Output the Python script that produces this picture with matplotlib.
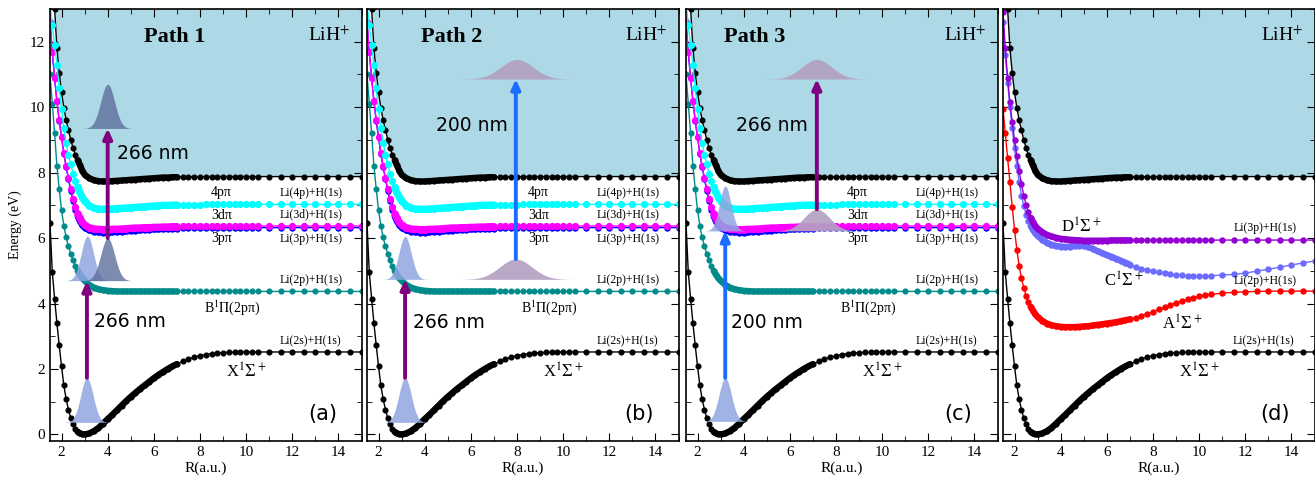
import numpy as np
import matplotlib
matplotlib.use("Agg")
import matplotlib.pyplot as plt
from matplotlib.ticker import MultipleLocator

plt.rcParams.update({
    "font.family": "serif", "font.serif": ["Liberation Serif", "DejaVu Serif"],
    "mathtext.fontset": "stix", "font.size": 10.5,
    "xtick.direction": "in", "ytick.direction": "in",
    "xtick.top": True, "ytick.right": True,
    "xtick.major.size": 6, "ytick.major.size": 6,
    "xtick.minor.size": 3.5, "ytick.minor.size": 3.5,
    "axes.linewidth": 1.2,
})

# ---------------------------------------------------------------- data (eV)
R = np.array([1.5, 1.6, 1.7, 1.8, 1.9, 2.0, 2.1, 2.2, 2.3, 2.4, 2.5, 2.6, 2.7, 2.8, 2.9, 3.0,
              3.2, 3.4, 3.6, 3.8, 4.0, 4.2, 4.4, 4.6, 4.8, 5.0, 5.2, 5.4, 5.6, 5.8, 6.0,
              6.2, 6.4, 6.6, 6.8, 7.0,
              7.25, 7.5, 7.75, 8.0, 8.25, 8.5, 8.75, 9.0, 9.25, 9.5, 9.75, 10.0, 10.25, 10.5,
              11.0, 11.5, 12.0, 12.5, 13.0, 13.5, 14.0, 14.5, 15.0])

ION = np.array([15.5, 14.2, 13.0, 11.8, 11.05, 10.45, 9.98, 9.6, 9.3, 9.0, 8.75, 8.55, 8.38, 8.22, 8.06, 7.94,
                7.83, 7.77, 7.74, 7.73, 7.73, 7.74, 7.75, 7.76, 7.77, 7.78, 7.79, 7.80, 7.81, 7.82, 7.83,
                7.84, 7.85, 7.85, 7.86, 7.86,
                7.87, 7.87, 7.87, 7.87, 7.88, 7.88, 7.88, 7.88, 7.88, 7.88, 7.88, 7.88, 7.88, 7.88,
                7.88, 7.88, 7.88, 7.88, 7.88, 7.88, 7.88, 7.88, 7.88])
PI_4P = np.array([13.2, 12.5, 11.9, 11.3, 10.6, 9.95, 9.35, 8.9, 8.55, 8.25, 7.97, 7.75, 7.55, 7.38, 7.25, 7.13,
                  6.99, 6.92, 6.89, 6.88, 6.88, 6.89, 6.90, 6.91, 6.92, 6.93, 6.94, 6.95, 6.96, 6.97, 6.98,
                  6.99, 7.00, 7.00, 7.01, 7.01,
                  7.02, 7.02, 7.02, 7.02, 7.03, 7.03, 7.03, 7.03, 7.03, 7.03, 7.03, 7.03, 7.03, 7.03,
                  7.03, 7.03, 7.03, 7.03, 7.03, 7.03, 7.03, 7.03, 7.03])
PI_3D = np.array([12.6, 11.7, 10.9, 10.2, 9.6, 9.1, 8.6, 8.2, 7.85, 7.5, 7.2, 6.95, 6.75, 6.6, 6.48, 6.4,
                  6.32, 6.28, 6.27, 6.26, 6.26, 6.27, 6.27, 6.28, 6.29, 6.30, 6.31, 6.31, 6.32, 6.32, 6.33,
                  6.33, 6.34, 6.34, 6.35, 6.35,
                  6.36, 6.36, 6.36, 6.37, 6.37, 6.37, 6.37, 6.37, 6.37, 6.37, 6.37, 6.37, 6.37, 6.37,
                  6.37, 6.37, 6.37, 6.37, 6.37, 6.37, 6.37, 6.37, 6.37])
PI_3P = np.array([12.58, 11.68, 10.88, 10.18, 9.58, 9.08, 8.58, 8.17, 7.8, 7.44, 7.13, 6.87, 6.67, 6.51, 6.4, 6.32,
                  6.24, 6.20, 6.18, 6.17, 6.17, 6.18, 6.19, 6.20, 6.21, 6.22, 6.23, 6.24, 6.25, 6.26, 6.27,
                  6.27, 6.28, 6.28, 6.29, 6.29,
                  6.30, 6.30, 6.31, 6.31, 6.31, 6.32, 6.32, 6.32, 6.32, 6.32, 6.32, 6.32, 6.32, 6.32,
                  6.32, 6.32, 6.32, 6.32, 6.32, 6.32, 6.32, 6.32, 6.32])
B_PI = np.array([11.0, 10.1, 9.2, 8.2, 7.5, 6.85, 6.38, 6.02, 5.75, 5.52, 5.32, 5.15, 5.0, 4.88, 4.78, 4.7,
                 4.57, 4.49, 4.44, 4.41, 4.39, 4.38, 4.37, 4.37, 4.37, 4.37, 4.37, 4.37, 4.37, 4.37, 4.37,
                 4.37, 4.37, 4.37, 4.37, 4.37,
                 4.37, 4.37, 4.37, 4.37, 4.37, 4.37, 4.37, 4.37, 4.37, 4.37, 4.37, 4.37, 4.37, 4.37,
                 4.37, 4.37, 4.37, 4.37, 4.37, 4.37, 4.37, 4.37, 4.37])
X_SIG = np.array([6.45, 4.95, 4.15, 3.4, 2.72, 2.08, 1.5, 1.08, 0.76, 0.5, 0.31, 0.17, 0.08, 0.03, 0.01, 0.0,
                  0.03, 0.10, 0.20, 0.33, 0.47, 0.60, 0.74, 0.88, 1.02, 1.15, 1.27, 1.39, 1.50, 1.61, 1.72,
                  1.82, 1.91, 2.00, 2.08, 2.15,
                  2.23, 2.30, 2.36, 2.41, 2.44, 2.47, 2.49, 2.50, 2.51, 2.51, 2.52, 2.52, 2.52, 2.52,
                  2.52, 2.52, 2.52, 2.52, 2.52, 2.52, 2.52, 2.52, 2.52])
A_SIG = np.array([9.95, 9.2, 8.45, 7.7, 6.95, 6.25, 5.65, 5.15, 4.77, 4.48, 4.24, 4.05, 3.9, 3.78, 3.67, 3.59,
                  3.47, 3.39, 3.34, 3.31, 3.29, 3.28, 3.28, 3.28, 3.29, 3.30, 3.31, 3.33, 3.35, 3.37, 3.39,
                  3.41, 3.43, 3.46, 3.49, 3.52,
                  3.57, 3.63, 3.69, 3.75, 3.82, 3.88, 3.95, 4.02, 4.08, 4.13, 4.18, 4.22, 4.25, 4.28,
                  4.32, 4.34, 4.36, 4.37, 4.38, 4.38, 4.38, 4.38, 4.38])
C_SIG = np.array([12.6, 11.6, 10.75, 10.0, 9.35, 8.75, 8.2, 7.72, 7.3, 6.98, 6.72, 6.52, 6.37, 6.25, 6.15, 6.07,
                  5.95, 5.86, 5.80, 5.76, 5.74, 5.73, 5.74, 5.76, 5.77, 5.76, 5.73, 5.67, 5.60, 5.54, 5.48,
                  5.43, 5.37, 5.31, 5.25, 5.19,
                  5.13, 5.07, 5.02, 4.98, 4.95, 4.92, 4.90, 4.88, 4.86, 4.85, 4.84, 4.84, 4.84, 4.85,
                  4.87, 4.89, 4.93, 4.99, 5.05, 5.11, 5.18, 5.24, 5.30])
D_SIG = np.array([12.9, 11.8, 10.9, 10.15, 9.55, 9.0, 8.5, 8.05, 7.65, 7.3, 7.02, 6.8, 6.62, 6.48, 6.37, 6.29,
                  6.18, 6.10, 6.05, 6.01, 5.98, 5.96, 5.95, 5.94, 5.93, 5.92, 5.92, 5.92, 5.92, 5.92, 5.92,
                  5.93, 5.93, 5.93, 5.93, 5.93,
                  5.94, 5.94, 5.94, 5.94, 5.94, 5.94, 5.94, 5.94, 5.94, 5.94, 5.94, 5.94, 5.94, 5.94,
                  5.94, 5.94, 5.94, 5.94, 5.94, 5.94, 5.94, 5.94, 5.94])

# wave packets: (centre R, base E, peak height, width, kind)
PACKETS_A = [(3.1, 0.37, 1.36, 0.27, "g"), (3.12, 4.7, 1.36, 0.27, "g"),
             (4.0, 4.7, 1.30, 0.30, "d"), (4.0, 9.35, 1.35, 0.30, "d")]
PACKETS_B = [(3.15, 0.37, 1.36, 0.27, "g"), (3.15, 4.74, 1.31, 0.27, "g"),
             (7.95, 4.74, 0.62, 0.70, "m"), (8.0, 10.86, 0.60, 0.70, "m")]
PACKETS_C = [(3.2, 0.40, 1.33, 0.27, "g"), (3.2, 6.22, 1.37, 0.25, "g"),
             (7.17, 6.22, 0.66, 0.55, "m"), (7.17, 10.86, 0.60, 0.65, "m")]
# photon arrows: (R, E from, E to, wavelength)
ARROWS_A = [(3.1, 1.73, 4.69, "266 nm"), (4.0, 6.0, 9.35, "266 nm")]
ARROWS_B = [(3.15, 1.73, 4.74, "266 nm"), (7.95, 5.36, 10.86, "200 nm")]
ARROWS_C = [(3.2, 1.73, 6.22, "200 nm"), (7.17, 6.88, 10.86, "266 nm")]

ARROW_COL = {"266 nm": "#800080", "200 nm": "#1a6dff"}
PACK_COL = {"g": ("#8fa6e0", 0.85), "d": ("#5e6e9c", 0.8), "m": ("#b3a1c2", 0.92)}


def curve(ax, E, color, ms=3.6, lw_dense=4.6):
    ax.plot(R, E, color=color, lw=1.0, marker="o", ms=ms, mfc=color, mec=color, zorder=2)
    dense = (R >= 2.7) & (R <= 7.0)
    ax.plot(R[dense], E[dense], color=color, lw=lw_dense, solid_capstyle="round", zorder=2)


def packet(ax, r0, base, h, w, kind):
    col, al = PACK_COL[kind]
    r = np.linspace(r0 - 3.6 * w, r0 + 3.6 * w, 150)
    ax.fill_between(r, base, base + h * np.exp(-0.5 * ((r - r0) / w) ** 2),
                    color=col, alpha=al, lw=0, zorder=3)


def arrow(ax, r, e0, e1, lab):
    ax.annotate("", xy=(r, e1), xytext=(r, e0), zorder=4,
                arrowprops=dict(arrowstyle="-|>,head_length=0.55,head_width=0.25",
                                lw=2.8, color=ARROW_COL[lab], shrinkA=0, shrinkB=0))


fig = plt.figure(figsize=(13.15, 4.83), dpi=100)
lefts = [50, 367, 686, 1003]
axes = [fig.add_axes([l / 1315, 1 - 441 / 483, 311.5 / 1315, 432 / 483]) for l in lefts]

for i, ax in enumerate(axes):
    ax.fill_between(R, ION, 14, color="#add8e6", lw=0, zorder=0)
    curve(ax, X_SIG, "black", 3.4)
    curve(ax, ION, "black", 3.4)
    ax.set_xlim(1.5, 15)
    ax.set_ylim(-0.2, 13.0)
    ax.xaxis.set_major_locator(MultipleLocator(2))
    ax.xaxis.set_minor_locator(MultipleLocator(1))
    ax.yaxis.set_major_locator(MultipleLocator(2))
    ax.yaxis.set_minor_locator(MultipleLocator(1))
    ax.tick_params(labelsize=11)
    ax.set_xlabel("R(a.u.)", labelpad=2, fontsize=11)
    if i > 0:
        ax.set_yticklabels([])
    ax.text(13.6, 12.2, "LiH$^{+}$", fontsize=14, ha="center", va="center", zorder=5)
    ax.text(13.3, 0.62, "(" + "abcd"[i] + ")", fontsize=15, family="DejaVu Sans",
            ha="center", va="center", zorder=5)
    ax.text(12.8, 2.85, "Li(2s)+H(1s)", fontsize=8.5, ha="center", va="center")
    ax.text(10.0, 1.9, r"X$^1\Sigma^+$", fontsize=12, ha="center", va="center")

axes[0].set_ylabel("Energy (eV)", fontsize=10, labelpad=6)

for ax, packs, arrs, path, p_r, nm_pos in zip(
        axes[:3], [PACKETS_A, PACKETS_B, PACKETS_C], [ARROWS_A, ARROWS_B, ARROWS_C],
        ["Path 1", "Path 2", "Path 3"], [6.9, 5.17, 4.49],
        [[(4.96, 3.45), (5.97, 8.58)], [(5.03, 3.42), (6.04, 9.43)], [(5.0, 3.42), (5.22, 9.43)]]):
    curve(ax, B_PI, "#008b8b", 3.4)
    curve(ax, PI_3P, "blue", 3.6)
    curve(ax, PI_3D, "magenta", 4.2, 5.2)
    curve(ax, PI_4P, "cyan", 4.2, 5.2)
    for p in packs:
        packet(ax, *p)
    for a, pos in zip(arrs, nm_pos):
        arrow(ax, *a)
        ax.text(pos[0], pos[1], a[3], fontsize=13.5, family="DejaVu Sans",
                ha="center", va="center", zorder=5)
    ax.text(p_r, 12.13, path, fontsize=16, weight="bold", ha="center", va="center", zorder=5)
    for lab, e in [("4pπ", 7.39), ("3dπ", 6.68), ("3pπ", 5.98)]:
        ax.text(8.94, e, lab, fontsize=10, ha="center", va="center", zorder=5)
    for lab, e in [("Li(4p)+H(1s)", 7.39), ("Li(3d)+H(1s)", 6.72),
                   ("Li(3p)+H(1s)", 5.98), ("Li(2p)+H(1s)", 4.72)]:
        ax.text(12.8, e, lab, fontsize=8.5, ha="center", va="center", zorder=5)
    ax.text(9.4, 3.87, r"B$^1\Pi$(2pπ)", fontsize=10, ha="center", va="center")

axd = axes[3]
curve(axd, A_SIG, "red", 3.6)
curve(axd, C_SIG, "#6b6bff", 3.6)
curve(axd, D_SIG, "#9400d3", 3.6)
axd.text(4.9, 6.33, r"D$^1\Sigma^+$", fontsize=12, ha="center", va="center")
axd.text(6.72, 4.69, r"C$^1\Sigma^+$", fontsize=12, ha="center", va="center")
axd.text(9.25, 3.36, r"A$^1\Sigma^+$", fontsize=12, ha="center", va="center")
axd.text(12.86, 6.3, "Li(3p)+H(1s)", fontsize=8.5, ha="center", va="center")
axd.text(12.86, 4.69, "Li(2p)+H(1s)", fontsize=8.5, ha="center", va="center")

fig.savefig("out.png", dpi=100)
